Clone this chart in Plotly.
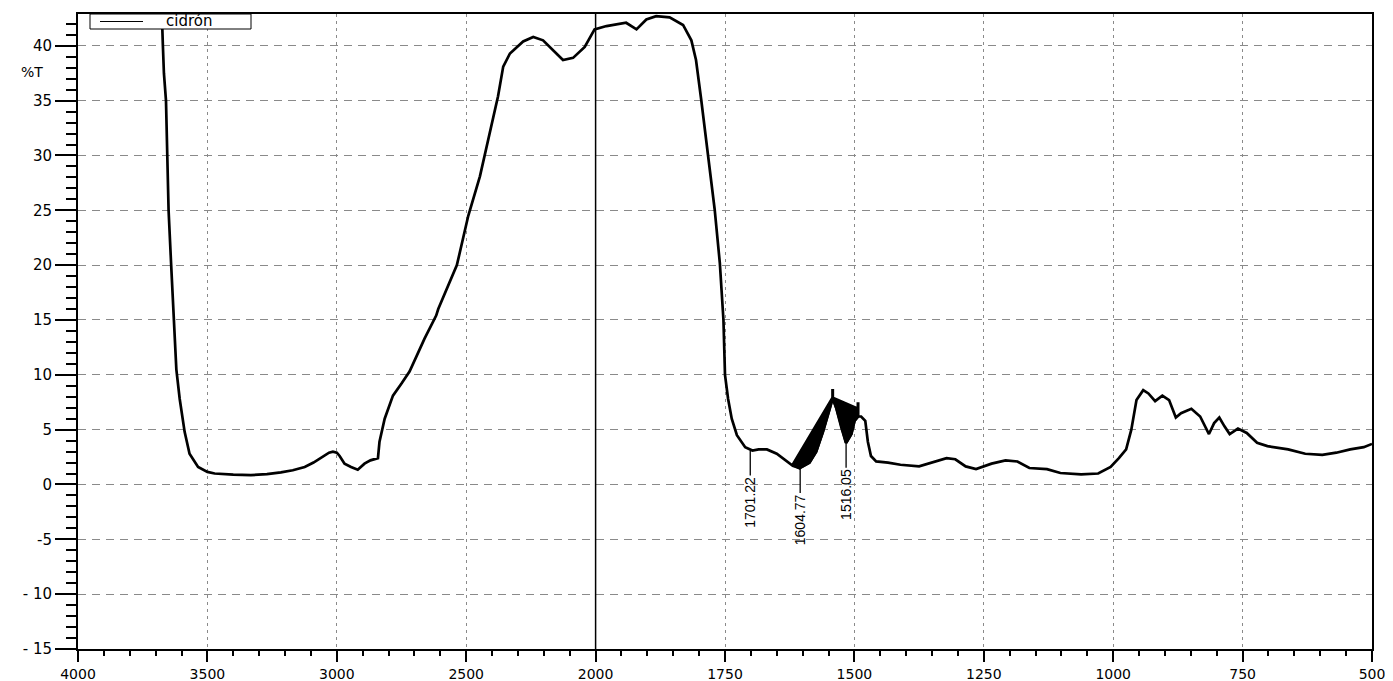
import plotly.graph_objects as go

# ---------------- data (wavenumber cm-1, %T) ----------------
wavenumber = [3680, 3676, 3672, 3668, 3660, 3655, 3650, 3640, 3633, 3627, 3620, 3607, 3588, 3569,
              3536, 3500, 3472, 3400, 3332, 3270, 3216, 3170, 3124, 3090, 3061, 3030, 3015, 3000,
              2989, 2970, 2945, 2919, 2893, 2870, 2841, 2835, 2815, 2783, 2750, 2719, 2690, 2661,
              2616, 2608, 2536, 2492, 2447, 2409, 2377, 2357, 2331, 2280, 2241, 2203, 2165, 2126,
              2087, 2042, 2004, 1979, 1941, 1921, 1902, 1883, 1857, 1831, 1815, 1806, 1796, 1783,
              1770, 1760, 1753, 1750, 1744, 1737, 1727, 1711, 1697, 1685, 1669, 1650, 1635, 1619,
              1606, 1587, 1574, 1561, 1548, 1542, 1535, 1525, 1516, 1506, 1500, 1493, 1487, 1479,
              1474, 1468, 1458, 1435, 1411, 1375, 1348, 1322, 1305, 1285, 1265, 1235, 1208, 1185,
              1162, 1128, 1102, 1062, 1029, 1005, 989, 975, 965, 955, 942, 932, 919, 905, 892, 879,
              869, 849, 832, 815, 805, 795, 785, 775, 759, 742, 722, 702, 662, 629, 596, 569, 542,
              516, 500]
transmittance = [44.0, 42.9, 40.0, 37.5, 35.0, 30.0, 25.0, 20.0, 16.9, 13.9, 10.5, 7.8, 4.8, 2.8,
                 1.6, 1.15, 1.0, 0.9, 0.85, 0.95, 1.1, 1.3, 1.6, 2.0, 2.45, 2.9, 3.0, 2.9,
                 2.6, 1.9, 1.6, 1.35, 1.9, 2.2, 2.4, 3.9, 6.0, 8.1, 9.2, 10.3, 11.8, 13.3,
                 15.4, 16.0, 20.0, 24.5, 28.1, 32.1, 35.4, 38.1, 39.3, 40.4, 40.8, 40.5, 39.6, 38.7,
                 38.9, 39.9, 41.5, 41.8, 42.1, 41.5, 42.4, 42.7, 42.6, 41.9, 40.5, 38.7, 35.1, 30.2,
                 25.1, 20.2, 15.0, 10.0, 7.8, 6.0, 4.5, 3.4, 3.1, 3.2, 3.2, 2.8, 2.3, 1.7,
                 1.5, 2.0, 3.0, 4.8, 6.9, 7.9, 7.0, 5.2, 3.8, 4.6, 5.8, 6.2, 6.2, 5.8,
                 3.9, 2.6, 2.1, 2.0, 1.8, 1.65, 2.0, 2.4, 2.3, 1.65, 1.4, 1.9, 2.2, 2.1,
                 1.5, 1.4, 1.05, 0.93, 1.0, 1.6, 2.4, 3.2, 5.0, 7.7, 8.6, 8.3, 7.6, 8.1, 7.7, 6.1,
                 6.5, 6.9, 6.2, 4.6, 5.6, 6.1, 5.3, 4.6, 5.1, 4.7, 3.8, 3.5, 3.2, 2.8, 2.7, 2.9, 3.2,
                 3.4, 3.7]

# dense (unresolved) band 1619-1493 cm-1, drawn as a filled envelope (upper edge, then lower edge)
band_wavenumber = [1619, 1542, 1542, 1542, 1493, 1493, 1493, 1500, 1506, 1516, 1525, 1535, 1542,
                   1548, 1561, 1574, 1587, 1606, 1619]
band_transmittance = [1.8, 7.9, 8.7, 7.9, 6.9, 7.5, 6.2, 5.8, 4.6, 3.8, 5.2, 7.0, 7.9,
                      6.9, 4.8, 3.0, 2.0, 1.5, 1.8]

peak_wavenumber = [1701.22, 1604.77, 1516.05]
peak_transmittance = [3.1, 1.5, 3.8]
peak_labels = ["1701.22", "1604.77", "1516.05"]

x_tick_values = [4000, 3500, 3000, 2500, 2000, 1750, 1500, 1250, 1000, 750, 500]
x_tick_labels = ["4000", "3500", "3000", "2500", "2000", "1750", "1500", "1250", "1000", "750", "500"]
y_tick_values = [-15, -10, -5, 0, 5, 10, 15, 20, 25, 30, 35, 40]
y_tick_labels = ["- 15", "- 10", "-5", "0", "5", "10", "15", "20", "25", "30", "35", "40"]

series_name = "cidrón"
y_title = "%T"


# instrument's split abscissa: 500 cm-1 per division above 2000, 250 cm-1 per division below
def axis_pos(w):
    return (4000 - w) / 500 if w >= 2000 else 4 + (2000 - w) / 250


FONT = "DejaVu Sans, Liberation Sans, Arial, sans-serif"

fig = go.Figure()

fig.add_trace(go.Scatter(
    x=[axis_pos(w) for w in band_wavenumber], y=band_transmittance,
    mode="lines", fill="toself", fillcolor="black",
    line=dict(color="black", width=3), showlegend=False, hoverinfo="skip"))

fig.add_trace(go.Scatter(
    x=[axis_pos(w) for w in wavenumber], y=transmittance,
    mode="lines", name=series_name, showlegend=False,
    line=dict(color="black", width=2.7)))

for w, t, lab in zip(peak_wavenumber, peak_transmittance, peak_labels):
    fig.add_annotation(
        x=axis_pos(w), y=t, xref="x", yref="y", text=lab, textangle=-90,
        showarrow=True, arrowhead=0, arrowwidth=1.3, arrowcolor="black",
        ax=0, ay=52, standoff=0,
        font=dict(family="Liberation Sans Narrow, Liberation Sans, Arial, sans-serif",
                  size=14, color="black"))

# ordinate label
fig.add_annotation(x=0, xref="paper", y=37.6, yref="y", text=y_title, showarrow=False,
                   xanchor="right", xshift=-33, font=dict(family=FONT, size=14, color="black"))

# axis-break line at 2000 cm-1
fig.add_shape(type="line", xref="x", yref="paper", x0=axis_pos(2000), x1=axis_pos(2000),
              y0=0, y1=1, line=dict(color="black", width=1.5), layer="above")

# page body has an 8px margin: the figure is laid out so the plot area lands at (78,14)-(1372,649)
OFFSET = 8
ML, MR, MT, MB = 78 - OFFSET, 21, 14 - OFFSET, 32
PW, PH = 1294, 635

# legend box (as drawn by the instrument software)
fig.add_shape(type="rect", xref="paper", yref="paper",
              x0=12 / PW, x1=173 / PW, y0=1 - 15 / PH, y1=1,
              line=dict(color="black", width=1), fillcolor="white", layer="above")
fig.add_shape(type="line", xref="paper", yref="paper",
              x0=22 / PW, x1=65 / PW, y0=1 - 7.5 / PH, y1=1 - 7.5 / PH,
              line=dict(color="black", width=1), layer="above")
fig.add_annotation(x=86 / PW, y=1 - 7.5 / PH, xref="paper", yref="paper", text=series_name,
                   showarrow=False, xanchor="left", yanchor="middle",
                   font=dict(family=FONT, size=15, color="black"))

fig.update_xaxes(
    range=[axis_pos(4000), axis_pos(500)], automargin=False,
    tickmode="array", tickvals=[axis_pos(v) for v in x_tick_values], ticktext=x_tick_labels,
    ticks="outside", ticklen=11, tickwidth=2, tickcolor="black",
    showgrid=True, gridcolor="#8a8a8a", gridwidth=1, griddash="3px,4px",
    minor=dict(dtick=0.2, tick0=0, ticks="outside", ticklen=5, tickwidth=1.5,
               tickcolor="black", showgrid=False),
    showline=True, linecolor="black", linewidth=2, mirror=True,
    zeroline=False, tickfont=dict(family=FONT, size=14, color="black"))

fig.update_yaxes(
    range=[-15, 42.9], automargin=False,
    tickmode="array", tickvals=y_tick_values, ticktext=y_tick_labels,
    ticks="outside", ticklen=21, tickwidth=1.5, tickcolor="black",
    showgrid=True, gridcolor="#8a8a8a", gridwidth=1, griddash="8px,6px",
    minor=dict(dtick=1, tick0=0, ticks="outside", ticklen=10, tickwidth=1.5,
               tickcolor="black", showgrid=False),
    showline=True, linecolor="black", linewidth=2, mirror=True,
    zeroline=False, tickfont=dict(family=FONT, size=15, color="black"))

fig.update_layout(
    width=ML + PW + MR, height=MT + PH + MB,
    margin=dict(l=ML, r=MR, t=MT, b=MB, autoexpand=False),
    paper_bgcolor="white", plot_bgcolor="white",
    showlegend=False,
    font=dict(family=FONT, color="black"),
)

fig.write_html("out.html")
